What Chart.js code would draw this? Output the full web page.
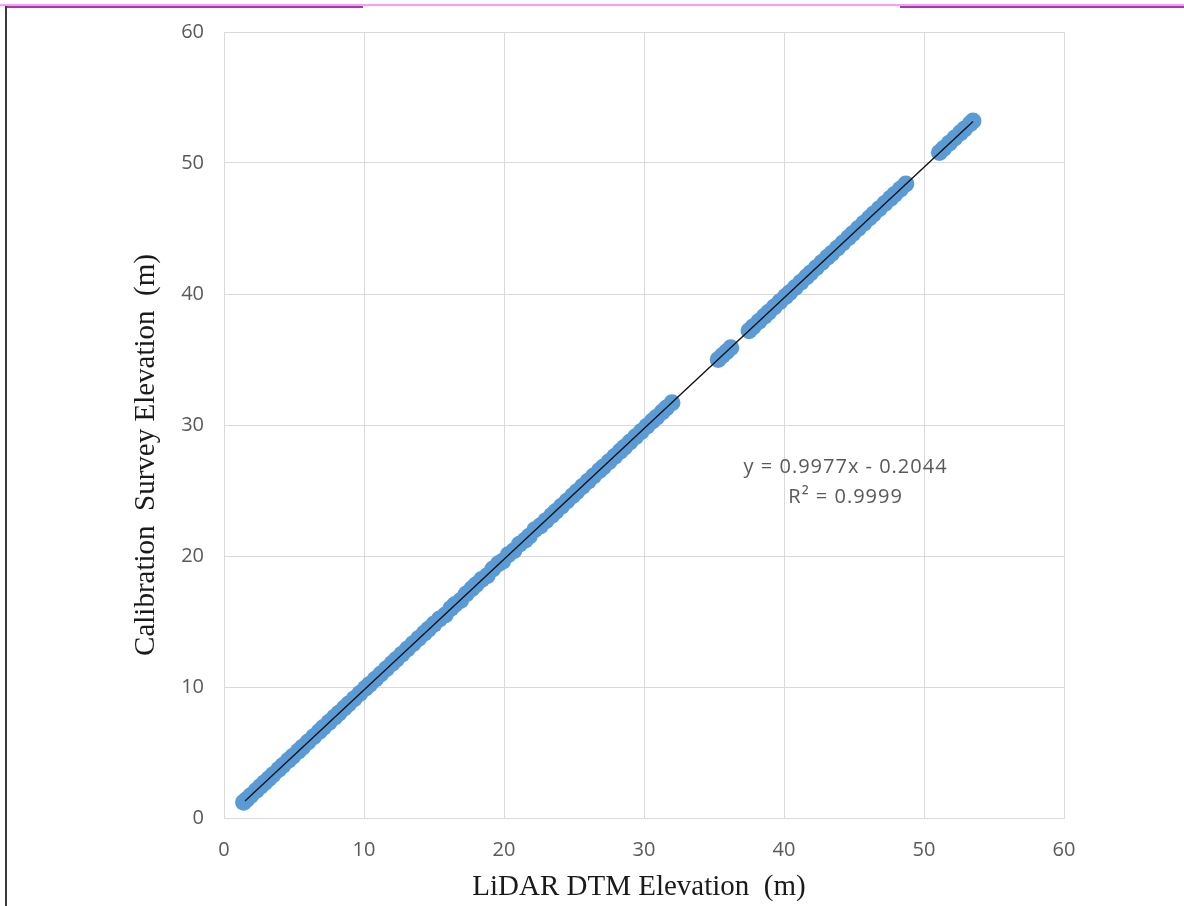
<!DOCTYPE html>
<html>
<head>
<meta charset="utf-8">
<script src="https://cdn.jsdelivr.net/npm/chart.js@4"></script>
<style>
  html, body { margin: 0; padding: 0; background: #fff; }
  #wrap { position: relative; width: 1184px; height: 906px; overflow: hidden; }
  #chart { position: absolute; left: 0; top: 0; }
  /* page frame bits around the figure */
  .topPink { position: absolute; left: 0; top: 4px; width: 1184px; height: 2px; background: #ff99ff; }
  .topPurple { position: absolute; top: 6px; height: 2px; background: #9b3fa6; }
  .leftLine { position: absolute; left: 5px; top: 6px; width: 2px; height: 900px; background: #3a3a3a; }
</style>
</head>
<body>
<div id="wrap">
  <canvas id="chart" width="1184" height="906"></canvas>
  <div class="topPink"></div>
  <div class="topPurple" style="left:5px;width:358px"></div>
  <div class="topPurple" style="left:900px;width:284px"></div>
  <div class="leftLine"></div>
</div>
<script>
/* ── Data: LiDAR DTM vs calibration survey elevation (m) ── */
const lidarX = [
  1.4, 1.6, 1.9, 2.3, 2.6, 2.9, 3.2, 3.5, 3.9, 4.2, 4.6, 4.9, 5.3, 5.6, 6.0, 6.4, 6.8, 7.1, 7.5, 7.9,
  8.2, 8.6, 8.9, 9.3, 9.7, 10.1, 10.4, 10.8, 11.2, 11.6, 12.0, 12.3, 12.7, 13.1, 13.5, 13.9, 14.3, 14.6, 15.0, 15.4,
  15.8, 16.2, 16.5, 16.9, 17.3, 17.7, 18.0, 18.4, 18.8, 19.2, 19.6, 19.9, 20.3, 20.7, 21.1, 21.5, 21.8, 22.2, 22.6, 23.0,
  23.4, 23.7, 24.1, 24.5, 24.9, 25.2, 25.6, 26.0, 26.4, 26.8, 27.1, 27.5, 27.9, 28.3, 28.6, 29.0, 29.4, 29.8, 30.2, 30.6,
  30.9, 31.3, 31.6, 32.0,
  35.3, 35.6, 35.9, 36.2,
  37.5, 37.8, 38.2, 38.6, 38.9, 39.3, 39.7, 40.1, 40.4, 40.8, 41.2, 41.6, 41.9, 42.3, 42.7, 43.1, 43.4, 43.8, 44.2, 44.6,
  44.9, 45.3, 45.7, 46.1, 46.4, 46.8, 47.2, 47.6, 47.9, 48.3, 48.7,
  51.1, 51.4, 51.8, 52.2, 52.6, 52.9, 53.3, 53.5
];
const surveyY = [
  1.2, 1.4, 1.7, 2.1, 2.4, 2.7, 3.0, 3.3, 3.7, 4.0, 4.4, 4.7, 5.1, 5.4, 5.8, 6.2, 6.6, 6.9, 7.3, 7.7,
  8.0, 8.4, 8.7, 9.1, 9.5, 9.9, 10.2, 10.6, 11.0, 11.4, 11.8, 12.1, 12.5, 12.9, 13.3, 13.7, 14.1, 14.4, 14.8, 15.2,
  15.5, 16.0, 16.3, 16.6, 17.1, 17.5, 17.8, 18.2, 18.5, 19.0, 19.4, 19.6, 20.1, 20.4, 20.9, 21.2, 21.5, 22.0, 22.3, 22.7,
  23.1, 23.4, 23.8, 24.2, 24.6, 24.9, 25.3, 25.7, 26.1, 26.5, 26.8, 27.2, 27.6, 28.0, 28.3, 28.7, 29.1, 29.5, 29.9, 30.3,
  30.6, 31.0, 31.3, 31.7,
  35.0, 35.3, 35.6, 35.9,
  37.2, 37.5, 37.9, 38.3, 38.6, 39.0, 39.4, 39.8, 40.1, 40.5, 40.9, 41.3, 41.6, 42.0, 42.4, 42.8, 43.1, 43.5, 43.9, 44.3,
  44.6, 45.0, 45.4, 45.8, 46.1, 46.5, 46.9, 47.3, 47.6, 48.0, 48.4,
  50.8, 51.1, 51.5, 51.9, 52.3, 52.6, 53.0, 53.2
];
const axisTicks = [0, 10, 20, 30, 40, 50, 60];

/* ── Linear trendline (from the fitted equation) ── */
const trendSlope = 0.9977;
const trendIntercept = -0.2044;
const trendRange = [1.5, 53.5];
const eqLines = ["y = 0.9977x - 0.2044", "R² = 0.9999"];
const eqAnchor = { x: 44.4, y: 26.75 };

const points = lidarX.map((x, i) => ({ x: x, y: surveyY[i] }));
const trend = trendRange.map(x => ({ x: x, y: trendSlope * x + trendIntercept }));

/* ── Plot box (pixels) ── */
const PLOT_LEFT = 224, PLOT_RIGHT = 1064, PLOT_TOP = 31, PLOT_BOTTOM = 818;
const TICK_COLOR = "#595959";
const GRID_COLOR = "#d9d9d9";
const TICK_FONT = "'Open Sans', Lato, sans-serif";

/* ── Axis titles + equation label ── */
const labelsPlugin = {
  id: "labels",
  afterDraw(chart) {
    const ctx = chart.ctx;
    const xs = chart.scales.x, ys = chart.scales.y;
    ctx.save();
    ctx.fillStyle = "#1a1a1a";
    ctx.font = "29px 'Liberation Serif', 'DejaVu Serif', serif";
    ctx.textAlign = "center";
    ctx.textBaseline = "middle";
    ctx.fillText("LiDAR DTM Elevation  (m)", 639, 887);

    ctx.translate(146, 455);
    ctx.rotate(-Math.PI / 2);
    ctx.fillText("Calibration  Survey Elevation  (m)", 0, 0);
    ctx.restore();

    ctx.save();
    ctx.fillStyle = TICK_COLOR;
    ctx.font = "20px " + TICK_FONT;
    ctx.letterSpacing = "1px";
    ctx.textAlign = "center";
    ctx.textBaseline = "middle";
    const ex = xs.getPixelForValue(eqAnchor.x);
    const ey = ys.getPixelForValue(eqAnchor.y);
    ctx.fillText(eqLines[0], ex, ey);
    ctx.fillText(eqLines[1], ex, ey + 30);
    ctx.restore();
  }
};

new Chart(document.getElementById("chart"), {
  type: "scatter",
  data: {
    datasets: [
      {
        label: "Elevation",
        data: points,
        backgroundColor: "#5b9bd5",
        borderColor: "#5b9bd5",
        borderWidth: 0,
        pointRadius: 8.5,
        pointHoverRadius: 8.5,
        order: 2
      },
      {
        label: "Linear",
        type: "line",
        data: trend,
        borderColor: "#111",
        borderWidth: 1.4,
        pointRadius: 0,
        fill: false,
        order: 1
      }
    ]
  },
  options: {
    responsive: false,
    animation: false,
    layout: { padding: { left: 0, top: PLOT_TOP, right: 1184 - PLOT_RIGHT, bottom: 0 } },
    plugins: { legend: { display: false }, tooltip: { enabled: false } },
    scales: {
      x: {
        type: "linear",
        min: 0, max: 60,
        afterBuildTicks: s => { s.ticks = axisTicks.map(v => ({ value: v })); },
        afterFit: s => { s.height = 906 - PLOT_BOTTOM; },
        grid: { color: GRID_COLOR, lineWidth: 1, drawTicks: false },
        border: { display: true, color: GRID_COLOR },
        ticks: { color: TICK_COLOR, padding: 20, font: { family: TICK_FONT, size: 20 } }
      },
      y: {
        type: "linear",
        min: 0, max: 60,
        afterBuildTicks: s => { s.ticks = axisTicks.map(v => ({ value: v })); },
        afterFit: s => { s.width = PLOT_LEFT; },
        grid: { color: GRID_COLOR, lineWidth: 1, drawTicks: false },
        border: { display: true, color: GRID_COLOR },
        ticks: { color: TICK_COLOR, padding: 20, font: { family: TICK_FONT, size: 20 } }
      }
    }
  },
  plugins: [labelsPlugin]
});
</script>
</body>
</html>
